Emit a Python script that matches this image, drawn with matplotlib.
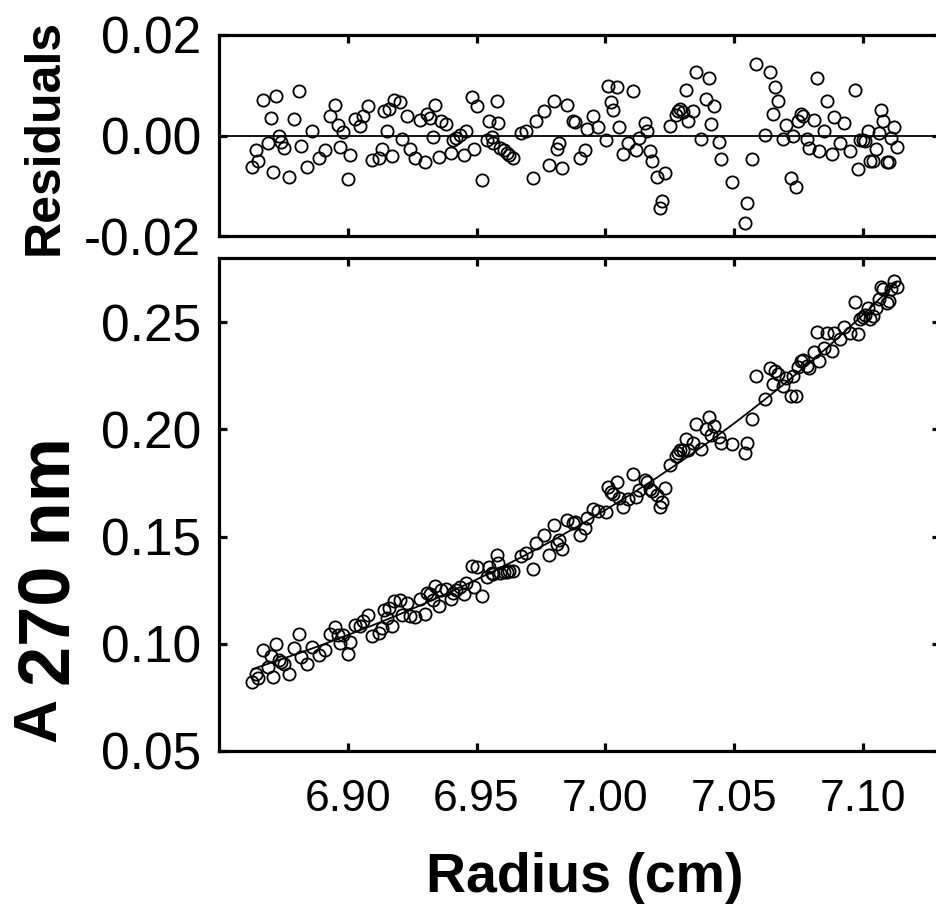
import matplotlib
matplotlib.use("Agg")
import matplotlib.pyplot as plt

plt.rcParams['font.family'] = ['Liberation Sans', 'DejaVu Sans']

# radial positions (cm) of the scan points
radius = [
    6.8629, 6.8651, 6.8642, 6.8672, 6.8690, 6.8700, 6.8710, 6.8722, 6.8733, 6.8739,
    6.8752, 6.8771, 6.8791, 6.8810, 6.8820, 6.8840, 6.8862, 6.8890, 6.8911, 6.8930,
    6.8950, 6.8961, 6.8971, 6.8982, 6.9001, 6.9010, 6.9029, 6.9049, 6.9059, 6.9078,
    6.9094, 6.9120, 6.9133, 6.9140, 6.9152, 6.9159, 6.9172, 6.9181, 6.9202, 6.9210,
    6.9230, 6.9240, 6.9262, 6.9279, 6.9301, 6.9307, 6.9320, 6.9331, 6.9340, 6.9353,
    6.9362, 6.9381, 6.9400, 6.9408, 6.9421, 6.9434, 6.9450, 6.9460, 6.9482, 6.9491,
    6.9501, 6.9521, 6.9540, 6.9550, 6.9559, 6.9566, 6.9579, 6.9585, 6.9591, 6.9605,
    6.9617, 6.9628, 6.9641, 6.9672, 6.9692, 6.9721, 6.9731, 6.9762, 6.9783, 6.9801,
    6.9811, 6.9822, 6.9832, 6.9853, 6.9873, 6.9882, 6.9902, 6.9921, 6.9930, 6.9951,
    6.9973, 7.0002, 7.0012, 7.0024, 7.0031, 7.0044, 7.0052, 7.0070, 7.0089, 7.0109,
    7.0121, 7.0132, 7.0153, 7.0163, 7.0173, 7.0183, 7.0202, 7.0212, 7.0222, 7.0231,
    7.0250, 7.0274, 7.0283, 7.0292, 7.0300, 7.0312, 7.0322, 7.0341, 7.0351, 7.0373,
    7.0390, 7.0403, 7.0412, 7.0421, 7.0442, 7.0451, 7.0493, 7.0541, 7.0550, 7.0571,
    7.0586, 7.0622, 7.0641, 7.0661, 7.0671, 7.0651, 7.0692, 7.0703, 7.0722, 7.0731,
    7.0742, 7.0748, 7.0761, 7.0767, 7.0783, 7.0791, 7.0812, 7.0822, 7.0832, 7.0851,
    7.0860, 7.0881, 7.0890, 7.0912, 7.0929, 7.0951, 7.0971, 7.0981, 7.0990, 7.1000,
    7.1010, 7.1019, 7.1028, 7.1039, 7.1052, 7.1062, 7.1071, 7.1080, 7.1093, 7.1103,
    7.1110, 7.1122, 7.1132,
]

# residuals of the fit
residuals = [
    -0.0062, -0.0050, -0.0029, 0.0071, -0.0015, 0.0034, -0.0072, 0.0078, 0.0000, -0.0013,
    -0.0025, -0.0082, 0.0033, 0.0088, -0.0021, -0.0062, 0.0009, -0.0044, -0.0029, 0.0038,
    0.0060, 0.0020, -0.0022, 0.0007, -0.0087, -0.0038, 0.0033, 0.0018, 0.0038, 0.0058,
    -0.0048, -0.0045, -0.0027, 0.0049, 0.0009, 0.0053, -0.0040, 0.0071, 0.0066, -0.0007,
    0.0038, -0.0027, -0.0045, 0.0031, -0.0052, 0.0042, 0.0034, -0.0002, 0.0060, -0.0042,
    0.0029, 0.0023, -0.0035, -0.0009, -0.0004, 0.0001, -0.0038, 0.0009, 0.0076, -0.0027,
    0.0058, -0.0089, -0.0009, 0.0028, -0.0002, -0.0015, 0.0068, 0.0025, -0.0025, -0.0029,
    -0.0035, -0.0038, -0.0044, 0.0005, 0.0009, -0.0085, 0.0029, 0.0049, -0.0058, 0.0069,
    -0.0027, -0.0014, -0.0065, 0.0060, 0.0028, 0.0027, -0.0045, -0.0029, 0.0013, 0.0038,
    0.0016, -0.0009, 0.0099, 0.0066, 0.0051, 0.0097, 0.0016, -0.0037, -0.0015, 0.0088,
    -0.0029, -0.0004, 0.0025, 0.0009, -0.0031, -0.0050, -0.0082, -0.0145, -0.0130, -0.0075,
    0.0018, 0.0040, 0.0049, 0.0053, 0.0046, 0.0091, 0.0029, 0.0049, 0.0127, -0.0007,
    0.0073, 0.0115, 0.0023, 0.0059, -0.0012, -0.0046, -0.0092, -0.0174, -0.0135, -0.0046,
    0.0142, 0.0001, 0.0126, 0.0096, 0.0068, 0.0042, -0.0007, 0.0021, -0.0084, 0.0000,
    -0.0103, 0.0028, 0.0042, 0.0038, -0.0007, -0.0024, 0.0031, 0.0115, -0.0031, 0.0009,
    0.0068, -0.0037, 0.0036, -0.0015, 0.0025, -0.0031, 0.0091, -0.0066, -0.0009, -0.0009,
    -0.0011, 0.0009, -0.0050, -0.0050, -0.0027, 0.0005, 0.0051, 0.0029, -0.0053, -0.0053,
    -0.0004, 0.0016, -0.0022,
]

# measured absorbance at 270 nm
absorbance = [
    0.0820, 0.0841, 0.0858, 0.0970, 0.0891, 0.0945, 0.0843, 0.0997, 0.0924, 0.0913,
    0.0907, 0.0858, 0.0981, 0.1044, 0.0939, 0.0907, 0.0987, 0.0946, 0.0971, 0.1047,
    0.1078, 0.1043, 0.1006, 0.1040, 0.0954, 0.1008, 0.1087, 0.1082, 0.1106, 0.1135,
    0.1037, 0.1052, 0.1076, 0.1156, 0.1122, 0.1169, 0.1083, 0.1198, 0.1204, 0.1135,
    0.1190, 0.1130, 0.1123, 0.1208, 0.1137, 0.1235, 0.1234, 0.1203, 0.1270, 0.1175,
    0.1251, 0.1256, 0.1208, 0.1238, 0.1251, 0.1263, 0.1233, 0.1286, 0.1365, 0.1267,
    0.1358, 0.1223, 0.1314, 0.1357, 0.1332, 0.1324, 0.1414, 0.1375, 0.1329, 0.1333,
    0.1334, 0.1338, 0.1340, 0.1408, 0.1425, 0.1349, 0.1469, 0.1509, 0.1416, 0.1555,
    0.1465, 0.1486, 0.1441, 0.1580, 0.1562, 0.1567, 0.1510, 0.1539, 0.1587, 0.1627,
    0.1621, 0.1616, 0.1732, 0.1707, 0.1698, 0.1753, 0.1678, 0.1638, 0.1675, 0.1793,
    0.1685, 0.1718, 0.1763, 0.1755, 0.1723, 0.1712, 0.1695, 0.1639, 0.1662, 0.1725,
    0.1833, 0.1874, 0.1891, 0.1902, 0.1902, 0.1957, 0.1903, 0.1939, 0.2025, 0.1910,
    0.2004, 0.2058, 0.1973, 0.2017, 0.1965, 0.1939, 0.1930, 0.1892, 0.1939, 0.2048,
    0.2250, 0.2143, 0.2286, 0.2275, 0.2257, 0.2212, 0.2203, 0.2241, 0.2155, 0.2248,
    0.2156, 0.2293, 0.2320, 0.2322, 0.2294, 0.2285, 0.2361, 0.2456, 0.2320, 0.2380,
    0.2449, 0.2366, 0.2449, 0.2422, 0.2480, 0.2448, 0.2593, 0.2447, 0.2514, 0.2525,
    0.2534, 0.2565, 0.2516, 0.2528, 0.2566, 0.2610, 0.2666, 0.2655, 0.2588, 0.2600,
    0.2657, 0.2692, 0.2665,
]

# fitted curve read at a set of radii
fit_radius = [6.863, 6.870, 6.880, 6.890, 6.900, 6.910, 6.920, 6.930, 6.940, 6.950,
              6.960, 6.970, 6.980, 6.990, 7.000, 7.010, 7.020, 7.030, 7.040, 7.050,
              7.060, 7.070, 7.080, 7.090, 7.100, 7.113]
fit_abs = [0.0882, 0.0911, 0.0952, 0.0995, 0.1041, 0.1088, 0.1137, 0.1189, 0.1243, 0.1300,
           0.1359, 0.1420, 0.1485, 0.1553, 0.1624, 0.1698, 0.1775, 0.1856, 0.1940, 0.2028,
           0.2121, 0.2217, 0.2318, 0.2423, 0.2534, 0.2684]

xticks = [6.90, 6.95, 7.00, 7.05, 7.10]
xticklabels = ['6.90', '6.95', '7.00', '7.05', '7.10']
res_ticks = [-0.02, 0.00, 0.02]
res_ticklabels = ['-0.02', '0.00', '0.02']
abs_ticks = [0.05, 0.10, 0.15, 0.20, 0.25]
abs_ticklabels = ['0.05', '0.10', '0.15', '0.20', '0.25']

W, H = 937, 906
fig = plt.figure(figsize=(W / 100, H / 100), dpi=100)

def px_axes(left, top, right, bottom):
    return fig.add_axes([left / W, 1 - bottom / H, (right - left) / W, (bottom - top) / H])

ax_res = px_axes(219, 35, 940, 236)
ax_abs = px_axes(219, 258, 940, 751)

for ax in (ax_res, ax_abs):
    for sp in ax.spines.values():
        sp.set_linewidth(2.3)
    ax.tick_params(direction='in', length=6, width=2.3, top=True, right=True)
    ax.tick_params(axis='y', labelsize=37, pad=13)
    ax.tick_params(axis='x', labelsize=32, pad=20)
    ax.set_xlim(6.85, 7.13)
    ax.set_xticks(xticks)

mk = dict(marker='o', markersize=8.8, markerfacecolor='none', markeredgecolor='black',
          markeredgewidth=1.3, linestyle='none')

# residuals panel
ax_res.axhline(0, color='black', linewidth=1.3, zorder=1)
ax_res.plot(radius, residuals, **mk)
ax_res.set_ylim(-0.02, 0.02)
ax_res.set_yticks(res_ticks)
ax_res.set_yticklabels(res_ticklabels)
ax_res.set_xticklabels([])

# absorbance panel
ax_abs.plot(fit_radius, fit_abs, color='black', linewidth=1.3, zorder=1)
ax_abs.plot(radius, absorbance, **mk)
ax_abs.set_ylim(0.05, 0.28)
ax_abs.set_yticks(abs_ticks)
ax_abs.set_yticklabels(abs_ticklabels)
ax_abs.set_xticklabels(xticklabels)

fig.text(45 / W, 1 - 137 / H, 'Residuals', rotation=90, fontsize=36, fontweight='bold',
         ha='center', va='center')
fig.text(40 / W, 1 - 742 / H, 'A', rotation=90, fontsize=44, fontweight='bold',
         ha='center', va='bottom')
fig.text(50 / W, 1 - 686 / H, '270 nm', rotation=90, fontsize=52, fontweight='bold',
         ha='center', va='bottom')
fig.text(585 / W, 1 - 878 / H, 'Radius (cm)', rotation=0, fontsize=40, fontweight='bold',
         ha='center', va='center')

fig.savefig('out.png', dpi=100)
